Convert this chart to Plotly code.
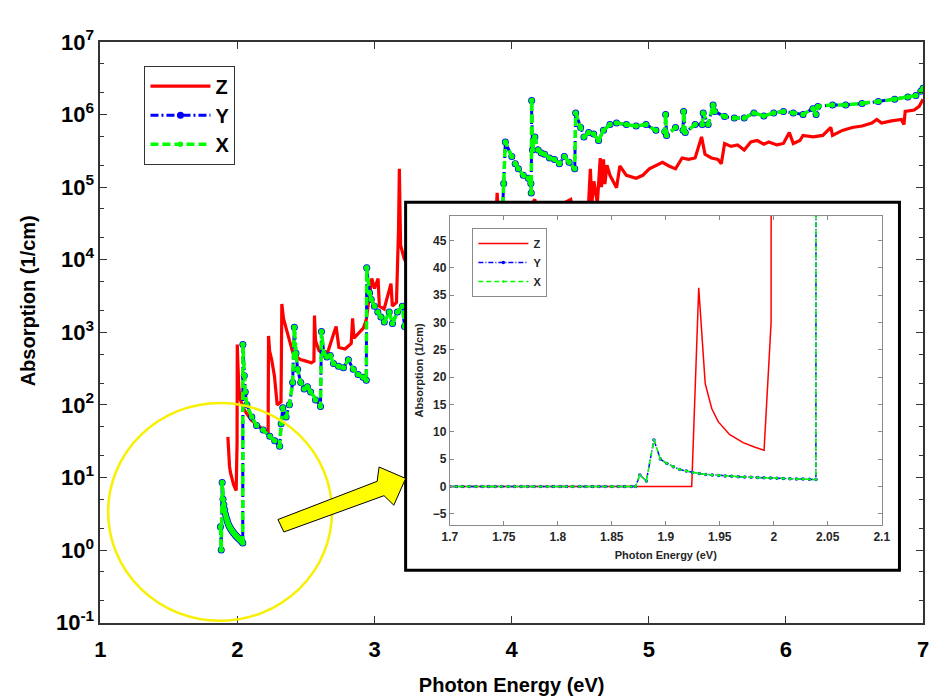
import plotly.graph_objects as go

# ---------------- data ----------------
# flat zero baseline below the absorption onset (only visible in the linear inset)
baseline_energy_xy = [
    1.700, 1.706, 1.712, 1.718, 1.724, 1.730, 1.736, 1.742, 1.748, 1.754,
    1.760, 1.766, 1.772, 1.778, 1.784, 1.790, 1.796, 1.802, 1.808, 1.814,
    1.820, 1.826, 1.832, 1.838, 1.844, 1.850, 1.856, 1.862, 1.868, 1.872,
]
baseline_value_xy = [
    0, 0, 0, 0, 0, 0, 0, 0, 0, 0,
    0, 0, 0, 0, 0, 0, 0, 0, 0, 0,
    0, 0, 0, 0, 0, 0, 0, 0, 0, 0,
]
baseline_energy_z = [1.700, 1.924]
baseline_value_z = [0, 0]

# X and Y polarisations practically coincide: one energy grid
energy_xy = [
    1.876, 1.882, 1.889, 1.895, 1.901, 1.907, 1.913, 1.919, 1.925, 1.931,
    1.937, 1.943, 1.949, 1.955, 1.961, 1.967, 1.973, 1.979, 1.985, 1.991,
    1.997, 2.003, 2.009, 2.015, 2.021, 2.027, 2.033, 2.039,
    2.040, 2.050, 2.057, 2.069, 2.105, 2.140, 2.188, 2.236, 2.272, 2.308,
    2.319, 2.331, 2.355, 2.379, 2.403, 2.415, 2.427, 2.439, 2.462, 2.487,
    2.510, 2.534, 2.570, 2.606, 2.613, 2.630, 2.653, 2.677, 2.701, 2.737,
    2.773, 2.809, 2.845, 2.880, 2.916, 2.940, 2.943, 2.964, 2.976, 2.999,
    3.024, 3.047, 3.071, 3.107, 3.131, 3.167, 3.203, 3.219, 3.300, 3.400,
    3.500, 3.600, 3.700, 3.800, 3.900, 3.930, 3.942, 3.954, 4.001, 4.026,
    4.049, 4.085, 4.121, 4.140, 4.143, 4.146, 4.152, 4.169, 4.193, 4.216,
    4.240, 4.276, 4.312, 4.348, 4.384, 4.419, 4.460, 4.467, 4.503, 4.527,
    4.562, 4.598, 4.634, 4.670, 4.717, 4.765, 4.837, 4.908, 4.980, 5.052,
    5.118, 5.123, 5.130, 5.195, 5.250, 5.254, 5.266, 5.338, 5.390, 5.397,
    5.433, 5.469, 5.481, 5.553, 5.624, 5.696, 5.767, 5.839, 5.911, 5.982,
    6.054, 6.125, 6.197, 6.220, 6.233, 6.340, 6.436, 6.555, 6.674, 6.793,
    6.889, 6.948, 6.984, 7.000,
]
absorption_y = [
    2.1, 1.0, 8.5, 5.0, 4.2, 3.6, 3.1, 2.8, 2.55, 2.35,
    2.2, 2.1, 2.0, 1.92, 1.85, 1.78, 1.72, 1.67, 1.62, 1.57,
    1.53, 1.49, 1.45, 1.42, 1.38, 1.35, 1.30, 1.25,
    676, 251, 151, 100, 68, 52, 45, 37, 32, 27,
    55, 91, 68, 100, 204, 1175, 513, 309, 204, 166,
    178, 151, 117, 95, 1023, 513, 457, 479, 372, 339,
    324, 417, 309, 263, 240, 219, 7760, 3470, 2820, 2290,
    1905, 1620, 1380, 1905, 1320, 1905, 2290, 1200, 2000, 3200,
    4000, 5000, 7900, 12600, 20000, 31600, 112000, 417000, 263000, 209000,
    178000, 145000, 132000, 112000, 83000, 1550000, 324000, 490000, 324000, 295000,
    282000, 251000, 240000, 209000, 263000, 219000, 178000, 1050000, 661000, 490000,
    562000, 537000, 437000, 603000, 724000, 760000, 724000, 692000, 724000, 603000,
    575000, 1000000, 513000, 661000, 603000, 1100000, 562000, 724000, 724000, 1050000,
    724000, 1350000, 1100000, 933000, 891000, 891000, 1050000, 950000, 1050000, 1100000,
    1050000, 1000000, 1200000, 1000000, 1290000, 1350000, 1350000, 1410000, 1510000, 1620000,
    1740000, 1820000, 2090000, 2290000,
]
absorption_x = list(absorption_y)  # X is indistinguishable from Y in the picture

energy_z = [
    1.9305, 1.9365, 1.9426, 1.9487, 1.959, 1.9716, 1.982, 1.991,
    1.9975, 1.999, 2.003, 2.010, 2.020, 2.050, 2.100, 2.150, 2.200, 2.224,
    2.227, 2.235, 2.250, 2.270, 2.290, 2.318, 2.324, 2.336, 2.360, 2.383,
    2.405, 2.430, 2.460, 2.500, 2.540, 2.558, 2.562, 2.570, 2.595, 2.620,
    2.660, 2.700, 2.720, 2.740, 2.785, 2.830, 2.840, 2.850, 2.895, 2.920,
    2.940, 2.960, 2.980, 3.000, 3.026, 3.035, 3.070, 3.120, 3.130, 3.160,
    3.175, 3.181, 3.190, 3.215, 3.300, 3.500, 3.700, 3.850, 3.880, 3.894,
    3.910, 4.100, 4.169, 4.190, 4.300, 4.431, 4.450, 4.560, 4.574, 4.585,
    4.600, 4.625, 4.646, 4.655, 4.670, 4.680, 4.695, 4.717, 4.741, 4.765,
    4.789, 4.837, 4.908, 4.956, 5.004, 5.052, 5.100, 5.147, 5.195, 5.243,
    5.290, 5.338, 5.385, 5.410, 5.457, 5.505, 5.529, 5.553, 5.600, 5.648,
    5.696, 5.744, 5.791, 5.839, 5.875, 5.934, 5.982, 6.025, 6.054, 6.102,
    6.125, 6.197, 6.269, 6.328, 6.340, 6.412, 6.483, 6.555, 6.627, 6.663,
    6.698, 6.770, 6.842, 6.861, 6.870, 6.936, 6.972, 7.000,
]
absorption_z = [
    36.3, 18.8, 14.2, 11.8, 9.5, 8.0, 7.2, 6.6,
    29.9, 676, 400, 180, 120, 85, 62, 52, 44, 42,
    891, 550, 417, 250, 100, 110, 2450, 1550, 1020, 690,
    513, 457, 420, 400, 380, 400, 1700, 760, 562, 513,
    540, 933, 1200, 617, 589, 700, 1550, 832, 1020, 1150,
    1500, 3000, 5500, 4000, 5500, 2290, 2090, 4680, 2290, 2570,
    26300, 178000, 15800, 10500, 5000, 8000, 15000, 30000, 20000, 83000,
    30000, 40000, 67600, 40000, 50000, 67600, 45000, 55000, 178000, 60000,
    120000, 60000, 251000, 100000, 240000, 110000, 200000, 145000, 120000, 98000,
    195000, 145000, 132000, 145000, 178000, 195000, 219000, 195000, 178000, 251000,
    240000, 251000, 490000, 282000, 251000, 240000, 209000, 398000, 363000, 380000,
    324000, 417000, 437000, 390000, 417000, 380000, 398000, 562000, 398000, 437000,
    513000, 490000, 513000, 661000, 513000, 603000, 661000, 692000, 759000, 851000,
    759000, 813000, 851000, 724000, 1100000, 1150000, 1290000, 1620000,
]

series_names = ["Z", "Y", "X"]
main_x_ticks = [1, 2, 3, 4, 5, 6, 7]
main_y_tickvals = [0.1, 1, 10, 100, 1000, 10000, 100000, 1000000, 10000000]
main_y_ticktext = ["10<sup>-1</sup>", "10<sup>0</sup>", "10<sup>1</sup>", "10<sup>2</sup>",
                   "10<sup>3</sup>", "10<sup>4</sup>", "10<sup>5</sup>", "10<sup>6</sup>",
                   "10<sup>7</sup>"]
inset_x_ticks = [1.7, 1.75, 1.8, 1.85, 1.9, 1.95, 2.0, 2.05, 2.1]
inset_y_ticks = [-5, 0, 5, 10, 15, 20, 25, 30, 35, 40, 45]

# ---------------- layout helpers (figure pixels -> paper fractions) ----------------
W, H = 933, 696
def fx(p):
    return p / W
def fy(p):
    return 1 - p / H

FONT = "Liberation Sans, Arial, Helvetica, sans-serif"
RED, BLUE, GREEN = "#ff0000", "#0000ff", "#00ff00"

fig = go.Figure()

# main (log) plot
fig.add_trace(go.Scatter(x=energy_z, y=absorption_z, name=series_names[0], mode="lines",
                         line=dict(color=RED, width=3.2), legend="legend"))
fig.add_trace(go.Scatter(x=energy_xy, y=absorption_y, name=series_names[1], mode="lines+markers",
                         line=dict(color=BLUE, width=3, dash="8px,3px,2px,3px"),
                         marker=dict(color=BLUE, size=7), legend="legend"))
fig.add_trace(go.Scatter(x=energy_xy, y=absorption_x, name=series_names[2], mode="lines+markers",
                         line=dict(color=GREEN, width=3.5, dash="8px,4px"),
                         marker=dict(color=GREEN, size=5.5), legend="legend"))

# white cover behind the inset (its own subplot background hides the main curves)
fig.add_trace(go.Scatter(x=[], y=[], xaxis="x2", yaxis="y2", showlegend=False, hoverinfo="skip"))

# inset (linear) plot: same data plus the zero baseline, zoomed
fig.add_trace(go.Scatter(x=baseline_energy_z + energy_z, y=baseline_value_z + absorption_z,
                         name=series_names[0], mode="lines",
                         line=dict(color=RED, width=1.5), xaxis="x3", yaxis="y3", legend="legend2"))
fig.add_trace(go.Scatter(x=baseline_energy_xy + energy_xy, y=baseline_value_xy + absorption_y,
                         name=series_names[1], mode="lines+markers",
                         line=dict(color=BLUE, width=1.5, dash="5px,2px,1px,2px"),
                         marker=dict(color=BLUE, size=3.5), xaxis="x3", yaxis="y3", legend="legend2"))
fig.add_trace(go.Scatter(x=baseline_energy_xy + energy_xy, y=baseline_value_xy + absorption_x,
                         name=series_names[2], mode="lines+markers",
                         line=dict(color=GREEN, width=1.5, dash="5px,3px"),
                         marker=dict(color=GREEN, size=2.5), xaxis="x3", yaxis="y3", legend="legend2"))

axis_common = dict(showgrid=False, zeroline=False, showline=True, mirror="ticks", ticks="inside")

fig.update_layout(
    width=W, height=H, autosize=False,
    margin=dict(l=0, r=0, t=0, b=0),
    paper_bgcolor="white", plot_bgcolor="white",
    font=dict(family=FONT, color="black"),
    xaxis=dict(axis_common, domain=[fx(94), fx(932)], range=[1, 7], tickvals=main_x_ticks,
               ticklen=7, linecolor="#333", linewidth=1.5, tickcolor="#333",
               ticklabelstandoff=6,
               tickfont=dict(size=22, weight="bold"),
               title=dict(text="Photon Energy (eV)", font=dict(size=20, weight="bold"), standoff=20),
               anchor="y"),
    yaxis=dict(axis_common, type="log", domain=[fy(635), fy(27)], range=[-1, 7],
               tickvals=main_y_tickvals, ticktext=main_y_ticktext,
               ticklen=7, linecolor="#333", linewidth=1.5, tickcolor="#333",
               minor=dict(ticks="inside", ticklen=4, tickcolor="#333"),
               tickfont=dict(size=22, weight="bold"),
               anchor="x"),
    xaxis2=dict(domain=[fx(405), fx(908)], visible=False, anchor="y2", range=[0, 1]),
    yaxis2=dict(domain=[fy(580), fy(195)], visible=False, anchor="x2", range=[0, 1]),
    xaxis3=dict(axis_common, domain=[fx(450), fx(890)], range=[1.7, 2.1], tickvals=inset_x_ticks,
                ticklen=4, linecolor="#8a8a8a", linewidth=1, tickcolor="#8a8a8a",
                tickfont=dict(size=12, weight="bold", color="#262626"),
                title=dict(text="Photon Energy (eV)", font=dict(size=11, weight="bold", color="#262626"),
                           standoff=8),
                anchor="y3"),
    yaxis3=dict(axis_common, domain=[fy(533), fy(209)], range=[-7.1, 49.5], tickvals=inset_y_ticks,
                ticklen=4, linecolor="#8a8a8a", linewidth=1, tickcolor="#8a8a8a",
                tickfont=dict(size=12, weight="bold", color="#262626"),
                title=dict(text="Absorption (1/cm)", font=dict(size=11, weight="bold", color="#262626"),
                           standoff=6),
                anchor="x3"),
    legend=dict(x=fx(139), y=fy(52), xanchor="left", yanchor="top", bgcolor="white",
                bordercolor="#333", borderwidth=1, itemwidth=60, tracegroupgap=0,
                font=dict(size=20, weight="bold")),
    legend2=dict(x=fx(473), y=fy(222), xanchor="left", yanchor="top", bgcolor="white",
                 bordercolor="#8a8a8a", borderwidth=1, itemwidth=50, tracegroupgap=0,
                 font=dict(size=11, weight="bold", color="#262626")),
    showlegend=True,
    annotations=[dict(text="Absorption (1/cm)", textangle=-90, xref="paper", yref="paper",
                      x=fx(20), y=fy(298), xanchor="center", yanchor="middle", showarrow=False,
                      font=dict(size=20, weight="bold"))],
)

# inset frame, yellow circle and arrow
arrow_pts = [(275, 527), (376, 487), (378, 472), (405, 484), (393, 512), (383, 502), (281, 540)]
arrow_path = "M " + " L ".join(f"{fx(a):.4f},{fy(b):.4f}" for a, b in arrow_pts) + " Z"
fig.update_layout(shapes=[
    dict(type="rect", xref="paper", yref="paper", x0=fx(405), x1=fx(908), y0=fy(580), y1=fy(195),
         line=dict(color="black", width=3), fillcolor="rgba(0,0,0,0)", layer="above"),
    dict(type="circle", xref="paper", yref="paper", x0=fx(102), x1=fx(330), y0=fy(633), y1=fy(405),
         line=dict(color="#f8f000", width=2.5), layer="above"),
    dict(type="path", xref="paper", yref="paper", path=arrow_path,
         fillcolor="#ffff00", line=dict(color="black", width=1), layer="above"),
])

fig.write_html("out.html")
